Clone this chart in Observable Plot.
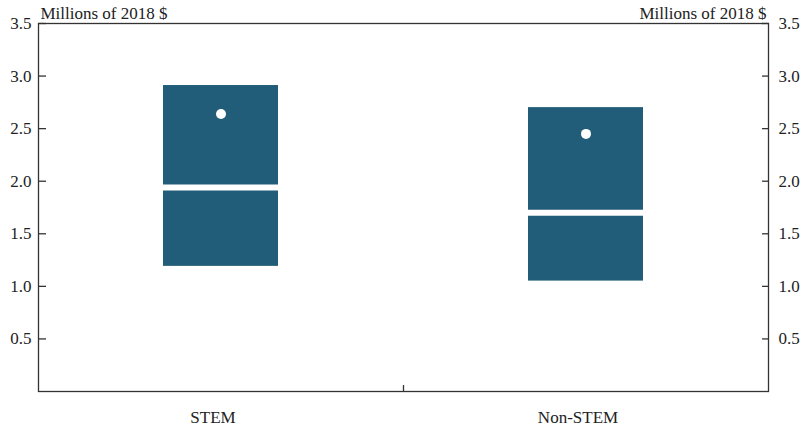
<!DOCTYPE html>
<html>
<head>
<meta charset="utf-8">
<script src="https://cdn.jsdelivr.net/npm/d3@7"></script>
<script src="https://cdn.jsdelivr.net/npm/@observablehq/plot@0.6"></script>
<style>
  html, body { margin: 0; padding: 0; background: #fff; }
  svg text { font-family: 'Liberation Serif', serif; }
</style>
</head>
<body>
<div id="chart"></div>
<script>
const categories = ["STEM", "Non-STEM"];
const q1 = [1.19, 1.05];
const median = [1.94, 1.70];
const q3 = [2.91, 2.70];
const mean = [2.64, 2.45];
const yTicks = [0.5, 1.0, 1.5, 2.0, 2.5, 3.0, 3.5];
const unitLabel = ["Millions of 2018 $"];

const data = categories.map((c, i) => ({cat: c, q1: q1[i], median: median[i], q3: q3[i], mean: mean[i]}));

const boxColor = "#215d78";
const inset = 125;
const fs = 17;
const ff = "'Liberation Serif', serif";

const chart = Plot.plot({
  width: 803,
  height: 430,
  marginTop: 23,
  marginBottom: 39,
  marginLeft: 38,
  marginRight: 35,
  style: {fontFamily: ff, fontSize: fs + "px", color: "#222", background: "#fff"},
  x: {domain: categories, paddingInner: 0, paddingOuter: 0, axis: null},
  y: {domain: [0, 3.5], axis: null},
  marks: [
    Plot.barY(data, {x: "cat", y1: "q1", y2: "q3", fill: boxColor, insetLeft: inset, insetRight: inset}),
    Plot.tickY(data, {x: "cat", y: "median", stroke: "white", strokeWidth: 6, insetLeft: inset - 2, insetRight: inset - 2}),
    Plot.dot(data, {x: "cat", y: "mean", fill: "white", r: 5}),
    Plot.frame({stroke: "#333", strokeWidth: 1.3}),
    Plot.axisY({anchor: "left", ticks: yTicks, tickSize: -8, tickPadding: 15, tickFormat: ".1f", label: null, stroke: "#333", strokeWidth: 1.3, fontSize: fs, fontFamily: ff}),
    Plot.axisY({anchor: "right", ticks: yTicks, tickSize: -7, tickPadding: 17, tickFormat: ".1f", label: null, stroke: "#333", strokeWidth: 1.3, fontSize: fs, fontFamily: ff}),
    Plot.axisX({tickSize: 0, tickPadding: 19, label: null, dx: -8, fontSize: fs, fontFamily: ff}),
    Plot.ruleX([categories[0]], {x: d => d, dx: 182.5, insetTop: 362, stroke: "#333", strokeWidth: 1.3}),
    Plot.text(unitLabel, {text: d => d, frameAnchor: "top-left", textAnchor: "start", lineAnchor: "bottom", dx: 2, dy: -5, fontSize: fs, fontFamily: ff, fill: "#222"}),
    Plot.text(unitLabel, {text: d => d, frameAnchor: "top-right", textAnchor: "end", lineAnchor: "bottom", dx: -2, dy: -5, fontSize: fs, fontFamily: ff, fill: "#222"})
  ]
});
document.getElementById("chart").appendChild(chart);
</script>
</body>
</html>
